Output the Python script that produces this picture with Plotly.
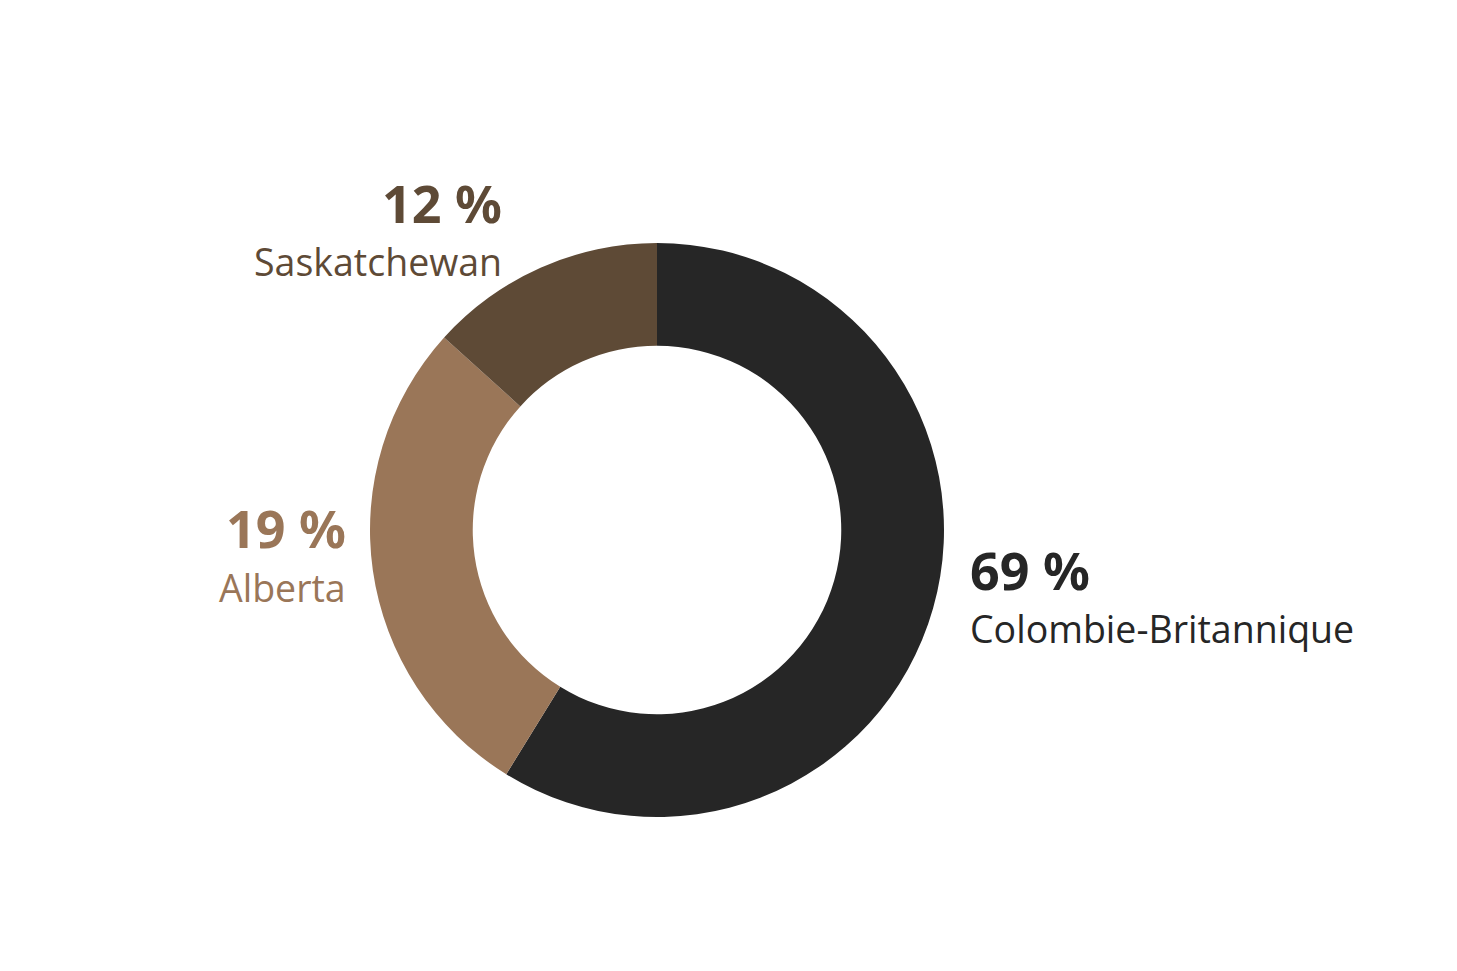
import plotly.graph_objects as go

labels = ["Colombie-Britannique", "Alberta", "Saskatchewan"]
label_pct = [69, 19, 12]            # percentages printed on the chart
slice_sizes = [58.8, 27.9, 13.3]    # slice sizes as drawn in the picture
colors = ["#262626", "#9a7658", "#5e4a36"]

W, H = 1457, 971
OFF = 8  # page body margin
cx, cy, r = 657 - OFF, 530 - OFF, 287

fig = go.Figure(go.Pie(
    labels=labels, values=slice_sizes, sort=False, direction="clockwise", rotation=0,
    hole=0.642, marker=dict(colors=colors, line=dict(width=0)),
    textinfo="none", hoverinfo="label", showlegend=False,
    domain=dict(x=[(cx - r) / W, (cx + r) / W], y=[(H - cy - r) / H, (H - cy + r) / H]),
))

# label anchor positions (pixels): (x, y of percent, y of name, xanchor)
pos = {
    "Colombie-Britannique": (968, 569, 628, "left"),
    "Alberta": (348, 527, 587, "right"),
    "Saskatchewan": (504, 203, 262, "right"),
}
anns = []
for lab, val, col in zip(labels, label_pct, colors):
    x, yp, yn, xa = pos[lab]
    x -= OFF
    yp -= OFF
    yn -= OFF
    anns.append(dict(x=x / W, y=1 - yp / H, xref="paper", yref="paper", xanchor=xa, yanchor="middle",
                     text=f"<b>{val} %</b>", showarrow=False,
                     font=dict(family="Noto Sans", size=52, color=col)))
    anns.append(dict(x=x / W, y=1 - yn / H, xref="paper", yref="paper", xanchor=xa, yanchor="middle",
                     text=lab, showarrow=False,
                     font=dict(family="Open Sans", size=37.5, color=col)))

fig.update_layout(width=W, height=H, margin=dict(l=0, r=0, t=0, b=0),
                  paper_bgcolor="white", plot_bgcolor="white", annotations=anns)
fig.write_html("out.html")
